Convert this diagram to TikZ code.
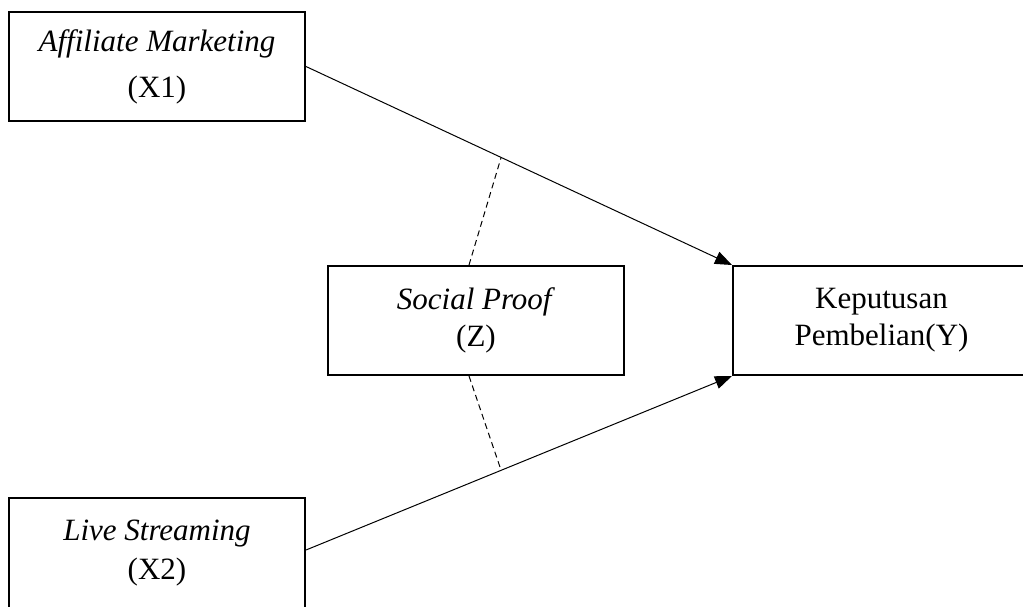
\documentclass[tikz,border=0pt]{standalone}
\usepackage{fontspec}
\setmainfont{Liberation Serif}
\usetikzlibrary{arrows.meta,calc}

\begin{document}
\begin{tikzpicture}[x=0.5pt,y=-0.5pt,
    box/.style={draw,line width=1pt,minimum width=148pt,minimum height=54.5pt,align=center,inner sep=0pt,
      font=\fontsize{15.5}{18.5}\selectfont},
    arr/.style={-{Triangle[length=8.5pt,width=6.5pt]},line width=0.5pt},
    dsh/.style={dash pattern=on 3pt off 2pt,line width=0.5pt}]
    \useasboundingbox (0,0) rectangle (1023,606);
    % variables
    \node[box](x1) at (157,66.5) {\textit{Affiliate Marketing}\\[4.5pt](X1)};
    \node[box](z) at (476,320.5) {\textit{Social Proof}\\(Z)};
    \node[box,minimum width=148.5pt](y) at (881.5,320.5) {Keputusan\\Pembelian(Y)};
    \node[box,minimum height=55pt](x2) at (157,553) {\textit{Live Streaming}\\[1pt](X2)};
    % paths
    \draw [arr] (x1.east) -- (y.north west);
    \draw [arr] ([yshift=1.5pt]x2.east) -- (y.south west);
    \coordinate (m1) at ($(x1.east)!0.458!(y.north west)$);
    \coordinate (m2) at ($([yshift=1.5pt]x2.east)!0.458!(y.south west)$);
    \draw [dsh] ([xshift=-3.5pt]z.north) -- (m1);
    \draw [dsh] ([xshift=-3.5pt]z.south) -- (m2);
\end{tikzpicture}
\end{document}
